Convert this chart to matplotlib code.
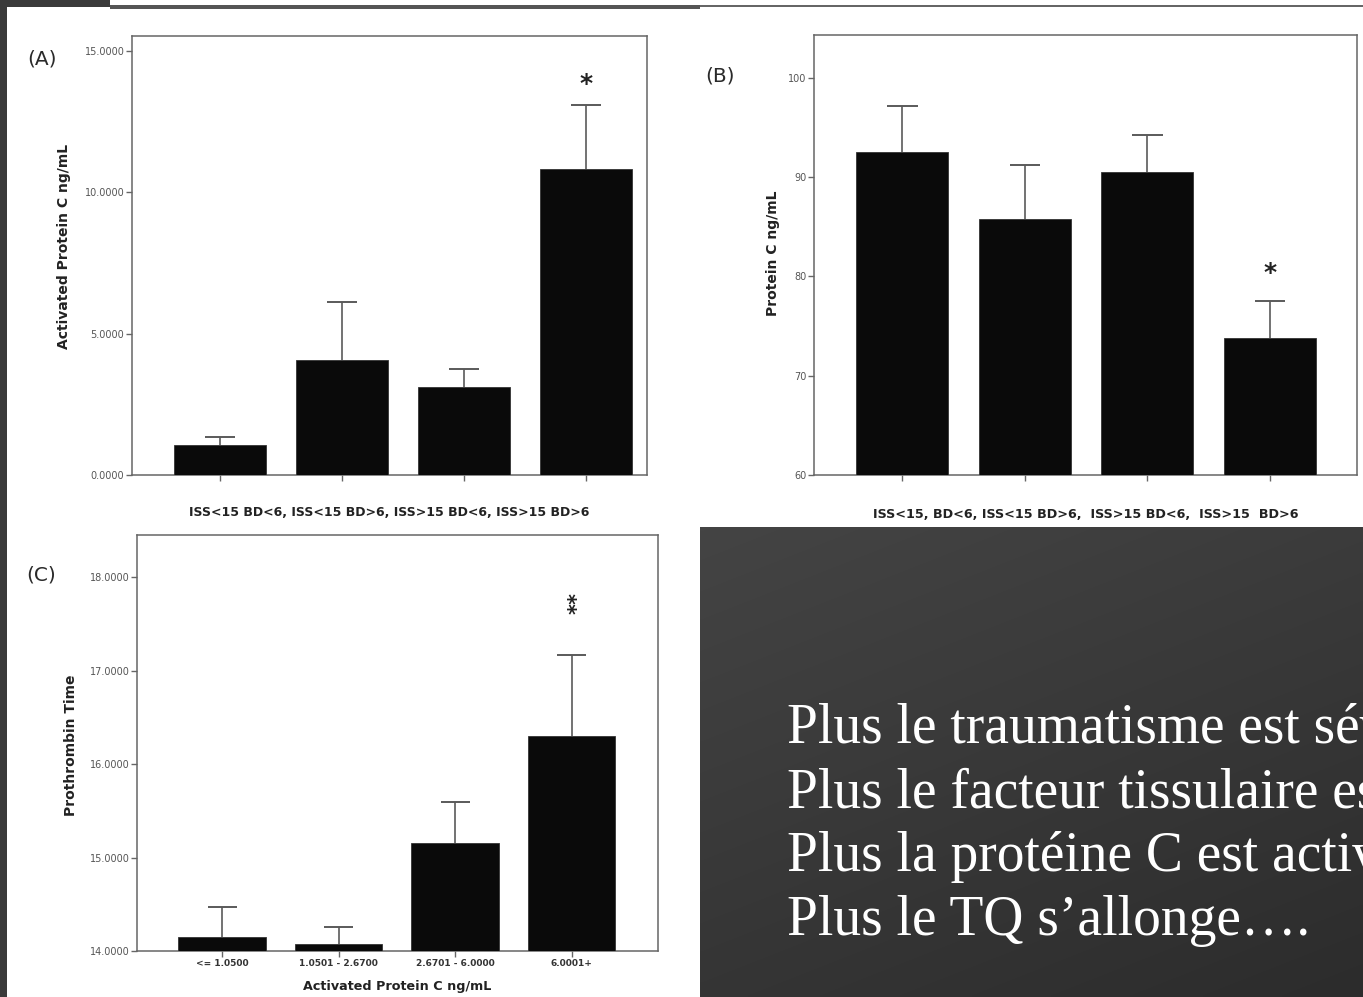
import numpy as np
import matplotlib
matplotlib.use("Agg")
import matplotlib.pyplot as plt
from matplotlib.patches import Rectangle

W, H = 1363, 997
plt.rcParams.update({"font.family": "DejaVu Sans"})

# ---- data ----
groups_a = ["ISS<15 BD<6", "ISS<15 BD>6", "ISS>15 BD<6", "ISS>15 BD>6"]
apc_mean = [1.06, 4.07, 3.11, 10.82]
apc_err = [0.28, 2.05, 0.64, 2.27]

pc_mean = [92.5, 85.8, 90.5, 73.8]
pc_err = [4.7, 5.4, 3.7, 3.7]

apc_bins = ["<= 1.0500", "1.0501 - 2.6700", "2.6701 - 6.0000", "6.0001+"]
pt_mean = [14.15, 14.075, 15.155, 16.30]
pt_err = [0.32, 0.185, 0.435, 0.87]

slide_lines = ["Plus le traumatisme est sévère",
               "Plus le facteur tissulaire est libéré",
               "Plus la protéine C est activée",
               "Plus le TQ s’allonge…."]

fig = plt.figure(figsize=(W / 100, H / 100), dpi=100, facecolor="white")

# ---- slide background (pixel coordinates) ----
bg = fig.add_axes([0, 0, 1, 1])
bg.set_xlim(0, W); bg.set_ylim(H, 0); bg.axis("off")
bg.add_patch(Rectangle((0, 0), 7, H, color="#3a3a3a", lw=0))
bg.add_patch(Rectangle((0, 0), 110, 7, color="#3a3a3a", lw=0))
bg.add_patch(Rectangle((110, 5), 590, 4, color="#555555", lw=0))
bg.add_patch(Rectangle((700, 5), W - 700, 2, color="#666666", lw=0))

# dark text box with soft gradient
gx = np.linspace(0, 1, 200)
gy = np.linspace(0, 1, 150)
grad = 0.5 * gx[None, :] + 0.9 * gy[:, None]
grad = grad / grad.max()
bg.imshow(grad, cmap=matplotlib.colors.LinearSegmentedColormap.from_list(
    "slide", ["#444444", "#2c2c2c"]), extent=[700, W, 997, 527],
    aspect="auto", interpolation="bilinear", zorder=1)
bg.set_xlim(0, W); bg.set_ylim(H, 0)
# the slide text runs past the right edge in the reference, so it is clipped
for i, line in enumerate(slide_lines):
    bg.text(787, 743 + i * 64, line, ha="left", va="baseline", color="white",
            fontsize=40, family=["Liberation Serif", "DejaVu Serif"], zorder=3,
            clip_on=True)

for lab, x, y in [("(A)", 42, 59), ("(B)", 720, 76), ("(C)", 41, 575)]:
    bg.text(x, y, lab, ha="center", va="center", fontsize=14.5, color="#2a2a2a")


def px_axes(l, t, r, b):
    return fig.add_axes([l / W, 1 - b / H, (r - l) / W, (b - t) / H])


def style(ax):
    for s in ax.spines.values():
        s.set_color("#666666"); s.set_linewidth(1.1)
    ax.tick_params(axis="both", direction="out", color="#666666", width=1.0,
                   length=4.5, labelsize=7, labelcolor="#555555", pad=1)
    ax.set_facecolor("white")


def bars(ax, means, errs, base):
    x = np.arange(len(means))
    heights = [m - base for m in means]
    ax.bar(x, heights, bottom=base, width=0.75, color="#0a0a0a",
           edgecolor="#333333", lw=0.6, zorder=3)
    tops = [m + e for m, e in zip(means, errs)]
    # upper half of the error bar only
    ax.vlines(x, means, tops, color="#5a5a5a", lw=1.2, zorder=2)
    ax.hlines(tops, x - 0.125, x + 0.125, color="#5a5a5a", lw=1.4, zorder=2)
    ax.set_xticks(x)
    return x


lab_kw = dict(fontweight="bold", color="#222222")

# ---- (A) activated protein C ----
axA = px_axes(132, 36, 647, 475)
style(axA)
bars(axA, apc_mean, apc_err, 0)
axA.set_xlim(-0.72, 3.5); axA.set_ylim(0, 15.53)
axA.set_yticks([0, 5, 10, 15])
axA.set_yticklabels([f"{v:.4f}" for v in [0, 5, 10, 15]])
axA.set_xticklabels([])
axA.set_xlabel(", ".join(groups_a), fontsize=9, labelpad=17, **lab_kw)
axA.set_ylabel("Activated Protein C ng/mL", fontsize=10, **lab_kw)
axA.yaxis.set_label_coords(-0.118, 0.52)
axA.annotate("*", (3, apc_mean[3] + apc_err[3]), xytext=(0, 15),
             textcoords="offset points", ha="center", va="center",
             fontsize=18, fontweight="bold", color="#222")

# ---- (B) protein C ----
axB = px_axes(814, 35, 1357, 475)
style(axB)
bars(axB, pc_mean, pc_err, 60)
axB.set_xlim(-0.72, 3.71); axB.set_ylim(60, 104.3)
axB.set_yticks([60, 70, 80, 90, 100])
axB.set_xticklabels([])
axB.set_xlabel("ISS<15, BD<6, ISS<15 BD>6,  ISS>15 BD<6,  ISS>15  BD>6",
               fontsize=9.2, labelpad=18, **lab_kw)
axB.set_ylabel("Protein C ng/mL", fontsize=10, **lab_kw)
axB.yaxis.set_label_coords(-0.062, 0.505)
axB.annotate("*", (3, pc_mean[3] + pc_err[3]), xytext=(0, 20),
             textcoords="offset points", ha="center", va="center",
             fontsize=18, fontweight="bold", color="#222")

# ---- (C) prothrombin time ----
axC = px_axes(137, 535, 658, 951)
style(axC)
bars(axC, pt_mean, pt_err, 14)
axC.set_xlim(-0.73, 3.74); axC.set_ylim(14, 18.45)
axC.set_yticks([14, 15, 16, 17, 18])
axC.set_yticklabels([f"{v:.4f}" for v in [14, 15, 16, 17, 18]])
axC.set_xticklabels(apc_bins, fontsize=6.5, fontweight="bold", color="#333")
axC.set_xlabel("Activated Protein C ng/mL", fontsize=9.2, labelpad=9, **lab_kw)
axC.set_ylabel("Prothrombin Time", fontsize=10, **lab_kw)
axC.yaxis.set_label_coords(-0.114, 0.495)
axC.annotate("**", (3, pt_mean[3] + pt_err[3]), xytext=(4, 37),
             textcoords="offset points", ha="center", va="center",
             rotation=90, fontsize=15, fontweight="bold", color="#222")

fig.savefig("out.png", dpi=100, facecolor="white")
